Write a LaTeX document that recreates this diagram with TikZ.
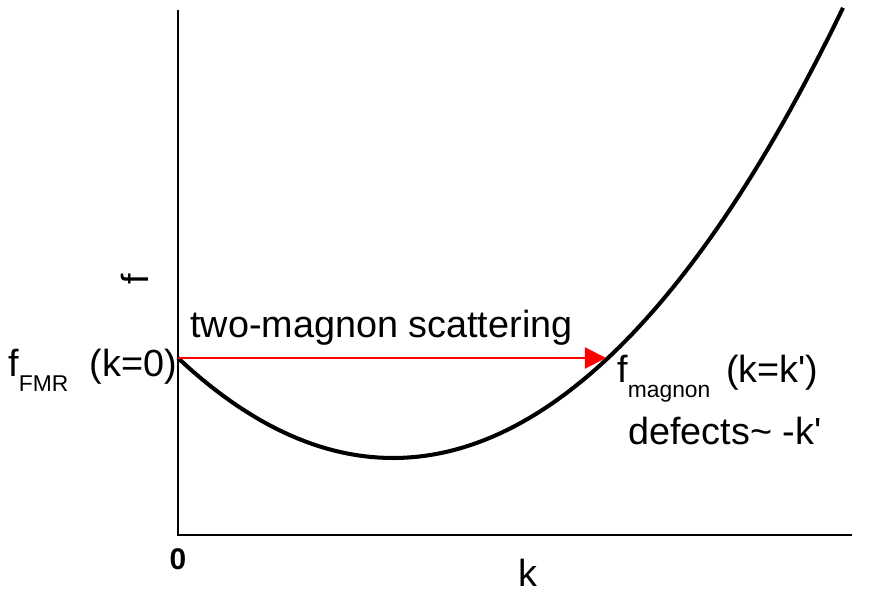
\documentclass[tikz,border=0pt]{standalone}
\usepackage{fontspec}
\setmainfont{Liberation Sans}
\usetikzlibrary{positioning,arrows.meta}

\newcommand{\lowsub}[1]{\raisebox{-8.5pt}{\fontsize{13}{14}\selectfont #1}}

\begin{document}
\begin{tikzpicture}[
		x=0.02cm, y=-0.02cm,
		font=\fontsize{21.5}{26}\selectfont,
		axis/.style={line width=1.2pt},
		disp/.style={line width=2.3pt},
		scat/.style={red,line width=1.2pt,-{Triangle[length=12pt,width=12pt]}},
		lbl/.style={inner sep=0pt,anchor=base west},
		]
		\useasboundingbox (0,0) rectangle (873,594);
		
		% Axes
		\coordinate (o) at (178,535);
		\coordinate (ftop) at (178,10);
		\coordinate (kend) at (852,535);
		\draw[axis] (ftop) -- (o) -- (kend);
		
		\node[font=\fontsize{17}{20}\selectfont\bfseries] (zero) at (178,559) {0};
		\node[inner sep=0pt,anchor=base] (klbl) at (528,587) {k};
		\node[rotate=90,inner sep=0pt] (flbl) at (135,279) {f};
		
		% Dispersion curve
		\draw[disp] plot[domain=178:843,samples=90]
			(\x,{458-21.46*((\x-393)/100)^2-0.038*((\x-393)/100)^4});
		
		% Scattering from k=0 to k=k'
		\coordinate (fmr) at (178,358);
		\coordinate (mag) at (606,358);
		\draw[scat] (fmr) -- (mag);
		
		\node[lbl] (scatlbl) at (190,338) {two-magnon scattering};
		\node[lbl,anchor=base east] (fmrlbl) at (177,377) {f\lowsub{FMR}\hspace{12pt}(k=0)};
		\node[lbl] (maglbl) at (617,383) {f\lowsub{magnon}\hspace{9pt}(k=k\textquotesingle)};
		\node[lbl] (deflbl) at (628,445) {defects\textasciitilde{} -k\textquotesingle};
		
	\end{tikzpicture}
\end{document}
